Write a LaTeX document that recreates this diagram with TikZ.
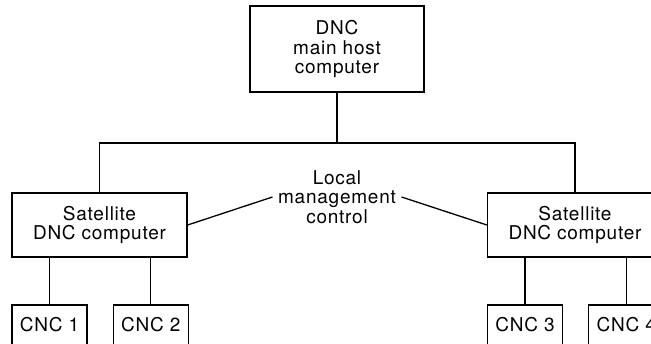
\documentclass[tikz,border=0pt]{standalone}
\usepackage{fontspec}
\setmainfont[LetterSpace=4]{TeX Gyre Heros}
\usetikzlibrary{positioning}
\tikzstyle{box} = [shape=rectangle,draw,line width=1.3pt,align=center,inner sep=0pt]
\tikzstyle{cnc} = [box,minimum width=75pt,minimum height=40pt]

\begin{document}
\begin{tikzpicture}[x=1pt,y=-1pt,line width=1.3pt,
    every node/.style={font=\fontsize{19}{19.5}\selectfont}]
    \clip (0,0) rectangle (651,344);
    \useasboundingbox (0,0) rectangle (651,344);
    % create the nodes
    \node (host) [box, minimum width=174pt, minimum height=86pt] at (337,49) {DNC\\main host\\computer};
    \node (sat1) [box, minimum width=175pt, minimum height=64pt] at (99.5,225) {Satellite\\DNC computer};
    \node (sat2) [box, minimum width=175pt, minimum height=64pt] at (575,225) {Satellite\\DNC computer};
    \node (local) [align=center, inner sep=5pt] at (337,197) {Local\\management\\control};
    \node (cnc1) [cnc] at (49.5,325) {CNC 1};
    \node (cnc2) [cnc, right = 25pt of cnc1] {CNC 2};
    \node (cnc3) [cnc] at (525,325) {CNC 3};
    \node (cnc4) [cnc, right = 25pt of cnc3] {CNC 4};
    \coordinate (bus) at (337,143);
    % connect the nodes
    \draw (host) -- (bus);
    \draw (sat1.north) |- (bus) -| (sat2.north);
    \draw (sat1.east) -- (local.west);
    \draw (local.east) -- (sat2.west);
    \draw (sat1.south -| cnc1) -- (cnc1);
    \draw (sat1.south -| cnc2) -- (cnc2);
    \draw (sat2.south -| cnc3) -- (cnc3);
    \draw (sat2.south -| cnc4) -- (cnc4);
\end{tikzpicture}
\end{document}
